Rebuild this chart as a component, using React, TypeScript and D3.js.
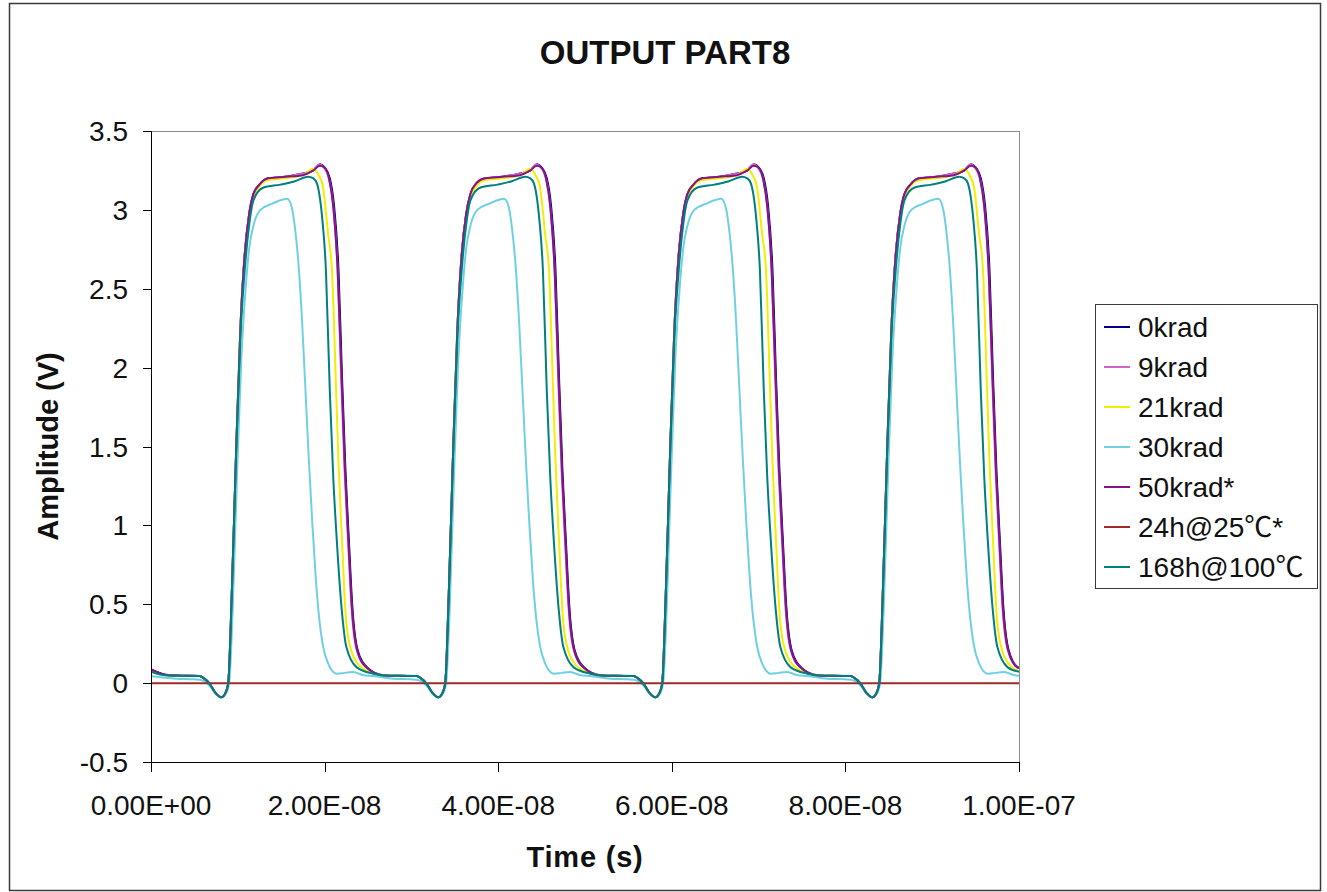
import React from 'react';
import * as d3 from 'd3';

// ---------- data (time in ns, amplitude in V) ----------
const X_TICKS = [0, 20, 40, 60, 80, 100];
const X_TICK_LABELS = ['0.00E+00', '2.00E-08', '4.00E-08', '6.00E-08', '8.00E-08', '1.00E-07'];
const Y_TICKS = [-0.5, 0, 0.5, 1, 1.5, 2, 2.5, 3, 3.5];
const Y_TICK_LABELS = ['-0.5', '0', '0.5', '1', '1.5', '2', '2.5', '3', '3.5'];

const SERIES_NAMES = ['0krad', '9krad', '21krad', '30krad', '50krad*', '24h@25℃*', '168h@100℃'];

const KRAD0: [number, number][] = [
  [0, 0.088], [0.6, 0.072], [1.7, 0.053], [3.5, 0.047],
  [5.6, 0.045], [6.1, 0.03], [6.7, 0], [7.4, -0.06], [8.1, -0.09], [8.6, -0.06], [8.9, 0], [9.3, 0.55], [9.8, 1.45], [10.3, 2.25], [10.8, 2.72], [11.3, 2.97], [11.8, 3.1], [12.5, 3.16], [13.5, 3.2], [15.5, 3.21], [17.5, 3.23], [18.7, 3.25], [19.5, 3.29], [20.0, 3.27], [20.6, 3.2], [21.1, 3.02], [21.6, 2.62], [22.0, 1.95], [22.4, 1.35], [22.8, 0.9], [23.2, 0.48], [23.8, 0.21], [24.9, 0.1], [26.8, 0.05], [28.5, 0.046],
  [30.6, 0.045], [31.1, 0.03], [31.7, 0], [32.4, -0.06], [33.1, -0.09], [33.6, -0.06], [33.9, 0], [34.3, 0.55], [34.8, 1.45], [35.3, 2.25], [35.8, 2.72], [36.3, 2.97], [36.8, 3.1], [37.5, 3.17], [38.5, 3.2], [40.5, 3.21], [42.5, 3.23], [43.7, 3.25], [44.5, 3.29], [45.0, 3.27], [45.6, 3.2], [46.1, 3.02], [46.6, 2.62], [47.0, 1.95], [47.4, 1.35], [47.8, 0.9], [48.2, 0.48], [48.8, 0.21], [49.9, 0.1], [51.8, 0.05], [53.5, 0.046],
  [55.6, 0.045], [56.1, 0.03], [56.7, 0], [57.4, -0.06], [58.1, -0.09], [58.6, -0.06], [58.9, 0], [59.3, 0.55], [59.8, 1.45], [60.3, 2.25], [60.8, 2.72], [61.3, 2.97], [61.8, 3.1], [62.5, 3.16], [63.5, 3.2], [65.5, 3.21], [67.5, 3.23], [68.7, 3.25], [69.5, 3.29], [70.0, 3.27], [70.6, 3.2], [71.1, 3.02], [71.6, 2.62], [72.0, 1.95], [72.4, 1.35], [72.8, 0.9], [73.2, 0.48], [73.8, 0.21], [74.9, 0.1], [76.8, 0.05], [78.5, 0.046],
  [80.6, 0.045], [81.1, 0.03], [81.7, 0], [82.4, -0.06], [83.1, -0.09], [83.6, -0.06], [83.9, 0], [84.3, 0.55], [84.8, 1.45], [85.3, 2.25], [85.8, 2.72], [86.3, 2.97], [86.8, 3.1], [87.5, 3.16], [88.5, 3.2], [90.5, 3.21], [92.5, 3.23], [93.7, 3.25], [94.5, 3.29], [95.0, 3.27], [95.6, 3.2], [96.1, 3.02], [96.6, 2.62], [97.0, 1.95], [97.4, 1.35], [97.8, 0.9], [98.2, 0.48], [98.8, 0.21], [99.9, 0.1], [100, 0.098],
];

const KRAD9: [number, number][] = [
  [0, 0.085], [0.6, 0.07], [1.7, 0.052], [3.5, 0.047],
  [5.6, 0.045], [6.1, 0.03], [6.7, 0], [7.4, -0.06], [8.1, -0.09], [8.6, -0.06], [8.9, 0], [9.3, 0.55], [9.8, 1.45], [10.3, 2.25], [10.8, 2.72], [11.3, 2.97], [11.8, 3.1], [12.5, 3.16], [13.5, 3.2], [15.5, 3.21], [17.5, 3.23], [18.7, 3.25], [19.4, 3.29], [19.9, 3.27], [20.5, 3.2], [21.0, 3.02], [21.5, 2.62], [21.9, 1.95], [22.3, 1.35], [22.7, 0.9], [23.1, 0.48], [23.7, 0.21], [24.8, 0.1], [26.7, 0.05], [28.5, 0.046],
  [30.6, 0.045], [31.1, 0.03], [31.7, 0], [32.4, -0.06], [33.1, -0.09], [33.6, -0.06], [33.9, 0], [34.3, 0.55], [34.8, 1.45], [35.3, 2.25], [35.8, 2.72], [36.3, 2.97], [36.8, 3.1], [37.5, 3.17], [38.5, 3.2], [40.5, 3.21], [42.5, 3.23], [43.7, 3.25], [44.4, 3.29], [44.9, 3.27], [45.5, 3.2], [46.0, 3.02], [46.5, 2.62], [46.9, 1.95], [47.3, 1.35], [47.7, 0.9], [48.1, 0.48], [48.7, 0.21], [49.8, 0.1], [51.7, 0.05], [53.5, 0.046],
  [55.6, 0.045], [56.1, 0.03], [56.7, 0], [57.4, -0.06], [58.1, -0.09], [58.6, -0.06], [58.9, 0], [59.3, 0.55], [59.8, 1.45], [60.3, 2.25], [60.8, 2.72], [61.3, 2.97], [61.8, 3.1], [62.5, 3.16], [63.5, 3.2], [65.5, 3.21], [67.5, 3.23], [68.7, 3.25], [69.4, 3.29], [69.9, 3.27], [70.5, 3.2], [71.0, 3.02], [71.5, 2.62], [71.9, 1.95], [72.3, 1.35], [72.7, 0.9], [73.1, 0.48], [73.7, 0.21], [74.8, 0.1], [76.7, 0.05], [78.5, 0.046],
  [80.6, 0.045], [81.1, 0.03], [81.7, 0], [82.4, -0.06], [83.1, -0.09], [83.6, -0.06], [83.9, 0], [84.3, 0.55], [84.8, 1.45], [85.3, 2.25], [85.8, 2.72], [86.3, 2.97], [86.8, 3.1], [87.5, 3.16], [88.5, 3.2], [90.5, 3.21], [92.5, 3.23], [93.7, 3.25], [94.4, 3.29], [94.9, 3.27], [95.5, 3.2], [96.0, 3.02], [96.5, 2.62], [96.9, 1.95], [97.3, 1.35], [97.7, 0.9], [98.1, 0.48], [98.7, 0.21], [99.8, 0.1], [100, 0.095],
];

const KRAD21: [number, number][] = [
  [0, 0.075], [0.6, 0.062], [1.7, 0.05], [3.5, 0.046],
  [5.6, 0.045], [6.1, 0.03], [6.7, 0], [7.4, -0.06], [8.1, -0.09], [8.6, -0.06], [8.9, 0], [9.3, 0.55], [9.8, 1.45], [10.3, 2.25], [10.8, 2.7], [11.3, 2.95], [11.8, 3.08], [12.5, 3.15], [13.5, 3.19], [15.5, 3.2], [17.5, 3.22], [18.7, 3.26], [19.3, 3.22], [19.8, 3.15], [20.4, 2.85], [20.85, 2.62], [21.3, 1.9], [21.6, 1.4], [22.0, 0.91], [22.5, 0.38], [23.3, 0.17], [24.8, 0.08], [26.5, 0.052], [28.5, 0.046],
  [30.6, 0.045], [31.1, 0.03], [31.7, 0], [32.4, -0.06], [33.1, -0.09], [33.6, -0.06], [33.9, 0], [34.3, 0.55], [34.8, 1.45], [35.3, 2.25], [35.8, 2.7], [36.3, 2.95], [36.8, 3.08], [37.5, 3.15], [38.5, 3.19], [40.5, 3.2], [42.5, 3.22], [43.7, 3.26], [44.3, 3.22], [44.8, 3.15], [45.4, 2.85], [45.85, 2.62], [46.3, 1.9], [46.6, 1.4], [47.0, 0.91], [47.5, 0.38], [48.3, 0.17], [49.8, 0.08], [51.5, 0.052], [53.5, 0.046],
  [55.6, 0.045], [56.1, 0.03], [56.7, 0], [57.4, -0.06], [58.1, -0.09], [58.6, -0.06], [58.9, 0], [59.3, 0.55], [59.8, 1.45], [60.3, 2.25], [60.8, 2.7], [61.3, 2.95], [61.8, 3.08], [62.5, 3.15], [63.5, 3.19], [65.5, 3.2], [67.5, 3.22], [68.7, 3.26], [69.3, 3.22], [69.8, 3.15], [70.4, 2.85], [70.85, 2.62], [71.3, 1.9], [71.6, 1.4], [72.0, 0.91], [72.5, 0.38], [73.3, 0.17], [74.8, 0.08], [76.5, 0.052], [78.5, 0.046],
  [80.6, 0.045], [81.1, 0.03], [81.7, 0], [82.4, -0.06], [83.1, -0.09], [83.6, -0.06], [83.9, 0], [84.3, 0.55], [84.8, 1.45], [85.3, 2.25], [85.8, 2.7], [86.3, 2.95], [86.8, 3.08], [87.5, 3.15], [88.5, 3.19], [90.5, 3.2], [92.5, 3.22], [93.7, 3.26], [94.3, 3.22], [94.8, 3.15], [95.4, 2.85], [95.85, 2.62], [96.3, 1.9], [96.6, 1.4], [97.0, 0.91], [97.5, 0.38], [98.3, 0.17], [99.8, 0.08], [100, 0.077],
];

const KRAD30: [number, number][] = [
  [0, 0.045], [0.6, 0.04], [2.9, 0.028], [5.0, 0.024],
  [5.6, 0.022], [6.2, 0.01], [6.8, -0.02], [7.5, -0.07], [8.1, -0.09], [8.6, -0.07], [9.0, 0], [9.4, 0.45], [9.9, 1.3], [10.4, 2.05], [10.9, 2.5], [11.3, 2.75], [11.8, 2.9], [12.6, 3.0], [14.0, 3.04], [15.7, 3.07], [16.2, 3.02], [16.6, 2.88], [17.0, 2.65], [17.4, 2.3], [17.8, 1.85], [18.2, 1.4], [18.6, 1.0], [19.0, 0.65], [19.4, 0.4], [19.8, 0.24], [20.4, 0.125], [21.4, 0.06], [22.3, 0.065], [23.3, 0.07], [24.5, 0.05], [25.6, 0.045], [27.9, 0.028], [30.0, 0.024],
  [30.6, 0.022], [31.2, 0.01], [31.8, -0.02], [32.5, -0.07], [33.1, -0.09], [33.6, -0.07], [34.0, 0], [34.4, 0.45], [34.9, 1.3], [35.4, 2.05], [35.9, 2.5], [36.3, 2.75], [36.8, 2.9], [37.6, 3.0], [39.0, 3.04], [40.7, 3.07], [41.2, 3.02], [41.6, 2.88], [42.0, 2.65], [42.4, 2.3], [42.8, 1.85], [43.2, 1.4], [43.6, 1.0], [44.0, 0.65], [44.4, 0.4], [44.8, 0.24], [45.4, 0.125], [46.4, 0.06], [47.3, 0.065], [48.3, 0.07], [49.5, 0.05], [50.6, 0.045], [52.9, 0.028], [55.0, 0.024],
  [55.6, 0.022], [56.2, 0.01], [56.8, -0.02], [57.5, -0.07], [58.1, -0.09], [58.6, -0.07], [59.0, 0], [59.4, 0.45], [59.9, 1.3], [60.4, 2.05], [60.9, 2.5], [61.3, 2.75], [61.8, 2.9], [62.6, 3.0], [64.0, 3.04], [65.7, 3.07], [66.2, 3.02], [66.6, 2.88], [67.0, 2.65], [67.4, 2.3], [67.8, 1.85], [68.2, 1.4], [68.6, 1.0], [69.0, 0.65], [69.4, 0.4], [69.8, 0.24], [70.4, 0.125], [71.4, 0.06], [72.3, 0.065], [73.3, 0.07], [74.5, 0.05], [75.6, 0.045], [77.9, 0.028], [80.0, 0.024],
  [80.6, 0.022], [81.2, 0.01], [81.8, -0.02], [82.5, -0.07], [83.1, -0.09], [83.6, -0.07], [84.0, 0], [84.4, 0.45], [84.9, 1.3], [85.4, 2.05], [85.9, 2.5], [86.3, 2.75], [86.8, 2.9], [87.6, 3.0], [89.0, 3.04], [90.7, 3.07], [91.2, 3.02], [91.6, 2.88], [92.0, 2.65], [92.4, 2.3], [92.8, 1.85], [93.2, 1.4], [93.6, 1.0], [94.0, 0.65], [94.4, 0.4], [94.8, 0.24], [95.4, 0.125], [96.4, 0.06], [97.3, 0.065], [98.3, 0.07], [99.5, 0.05], [100, 0.047],
];

const KRAD50: [number, number][] = [
  [0, 0.086], [0.6, 0.071], [1.7, 0.052], [3.5, 0.047],
  [5.6, 0.045], [6.1, 0.03], [6.7, 0], [7.4, -0.06], [8.1, -0.09], [8.6, -0.06], [8.9, 0], [9.3, 0.55], [9.8, 1.45], [10.3, 2.25], [10.8, 2.72], [11.3, 2.97], [11.8, 3.1], [12.5, 3.16], [13.5, 3.2], [15.5, 3.21], [17.5, 3.22], [18.7, 3.25], [19.45, 3.28], [19.95, 3.27], [20.5, 3.2], [21.0, 3.02], [21.5, 2.62], [21.95, 1.95], [22.35, 1.35], [22.75, 0.9], [23.15, 0.48], [23.75, 0.21], [24.8, 0.1], [26.7, 0.05], [28.5, 0.046],
  [30.6, 0.045], [31.1, 0.03], [31.7, 0], [32.4, -0.06], [33.1, -0.09], [33.6, -0.06], [33.9, 0], [34.3, 0.55], [34.8, 1.45], [35.3, 2.25], [35.8, 2.72], [36.3, 2.97], [36.8, 3.1], [37.5, 3.17], [38.5, 3.2], [40.5, 3.21], [42.5, 3.22], [43.7, 3.25], [44.45, 3.28], [44.95, 3.27], [45.5, 3.2], [46.0, 3.02], [46.5, 2.62], [46.95, 1.95], [47.35, 1.35], [47.75, 0.9], [48.15, 0.48], [48.75, 0.21], [49.8, 0.1], [51.7, 0.05], [53.5, 0.046],
  [55.6, 0.045], [56.1, 0.03], [56.7, 0], [57.4, -0.06], [58.1, -0.09], [58.6, -0.06], [58.9, 0], [59.3, 0.55], [59.8, 1.45], [60.3, 2.25], [60.8, 2.72], [61.3, 2.97], [61.8, 3.1], [62.5, 3.16], [63.5, 3.2], [65.5, 3.21], [67.5, 3.22], [68.7, 3.25], [69.45, 3.28], [69.95, 3.27], [70.5, 3.2], [71.0, 3.02], [71.5, 2.62], [71.95, 1.95], [72.35, 1.35], [72.75, 0.9], [73.15, 0.48], [73.75, 0.21], [74.8, 0.1], [76.7, 0.05], [78.5, 0.046],
  [80.6, 0.045], [81.1, 0.03], [81.7, 0], [82.4, -0.06], [83.1, -0.09], [83.6, -0.06], [83.9, 0], [84.3, 0.55], [84.8, 1.45], [85.3, 2.25], [85.8, 2.72], [86.3, 2.97], [86.8, 3.1], [87.5, 3.16], [88.5, 3.2], [90.5, 3.21], [92.5, 3.22], [93.7, 3.25], [94.45, 3.28], [94.95, 3.27], [95.5, 3.2], [96.0, 3.02], [96.5, 2.62], [96.95, 1.95], [97.35, 1.35], [97.75, 0.9], [98.15, 0.48], [98.75, 0.21], [99.8, 0.1], [100, 0.096],
];

const H24_25C: [number, number][] = [
  [0, 0], [100, 0],
];

const H168_100C: [number, number][] = [
  [0, 0.072], [0.6, 0.06], [1.7, 0.05], [3.5, 0.046],
  [5.6, 0.045], [6.1, 0.03], [6.7, 0], [7.4, -0.06], [8.1, -0.09], [8.6, -0.06], [8.9, 0], [9.3, 0.55], [9.8, 1.45], [10.3, 2.2], [10.8, 2.62], [11.3, 2.9], [11.8, 3.06], [12.9, 3.14], [14.9, 3.16], [16.5, 3.18], [18.1, 3.21], [18.7, 3.2], [19.1, 3.17], [19.7, 2.96], [20.15, 2.62], [20.6, 1.85], [21.0, 1.3], [21.4, 0.91], [21.95, 0.48], [22.5, 0.23], [23.7, 0.1], [25.6, 0.06], [27.5, 0.047],
  [30.6, 0.045], [31.1, 0.03], [31.7, 0], [32.4, -0.06], [33.1, -0.09], [33.6, -0.06], [33.9, 0], [34.3, 0.55], [34.8, 1.45], [35.3, 2.2], [35.8, 2.62], [36.3, 2.9], [36.8, 3.06], [37.9, 3.14], [39.9, 3.16], [41.5, 3.18], [43.1, 3.21], [43.7, 3.2], [44.1, 3.17], [44.7, 2.96], [45.15, 2.62], [45.6, 1.85], [46.0, 1.3], [46.4, 0.91], [46.95, 0.48], [47.5, 0.23], [48.7, 0.1], [50.6, 0.06], [52.5, 0.047],
  [55.6, 0.045], [56.1, 0.03], [56.7, 0], [57.4, -0.06], [58.1, -0.09], [58.6, -0.06], [58.9, 0], [59.3, 0.55], [59.8, 1.45], [60.3, 2.2], [60.8, 2.62], [61.3, 2.9], [61.8, 3.06], [62.9, 3.14], [64.9, 3.16], [66.5, 3.18], [68.1, 3.21], [68.7, 3.2], [69.1, 3.17], [69.7, 2.96], [70.15, 2.62], [70.6, 1.85], [71.0, 1.3], [71.4, 0.91], [71.95, 0.48], [72.5, 0.23], [73.7, 0.1], [75.6, 0.06], [77.5, 0.047],
  [80.6, 0.045], [81.1, 0.03], [81.7, 0], [82.4, -0.06], [83.1, -0.09], [83.6, -0.06], [83.9, 0], [84.3, 0.55], [84.8, 1.45], [85.3, 2.2], [85.8, 2.62], [86.3, 2.9], [86.8, 3.06], [87.9, 3.14], [89.9, 3.16], [91.5, 3.18], [93.1, 3.21], [93.7, 3.2], [94.1, 3.17], [94.7, 2.96], [95.15, 2.62], [95.6, 1.85], [96.0, 1.3], [96.4, 0.91], [96.95, 0.48], [97.5, 0.23], [98.7, 0.1], [100, 0.072],
];

const SERIES_DATA = [KRAD0, KRAD9, KRAD21, KRAD30, KRAD50, H24_25C, H168_100C];
const SERIES_COLORS = ['#000080', '#d064c8', '#f0ef00', '#6fd0e2', '#861486', '#9e2a2a', '#007f7f'];

const FONT = "'Liberation Sans', Arial, 'Noto Sans CJK SC', sans-serif";

export default function App() {
  const W = 1327;
  const H = 892;
  const plot = { left: 151, right: 1019, top: 131, bottom: 762 };

  const x = d3.scaleLinear().domain([0, 100]).range([plot.left, plot.right]);
  const y = d3.scaleLinear().domain([-0.5, 3.5]).range([plot.bottom, plot.top]);
  const line = d3
    .line<[number, number]>()
    .x((d) => x(d[0]))
    .y((d) => y(d[1]))
    .curve(d3.curveMonotoneX);

  const legend = { left: 1095, top: 304, right: 1317, bottom: 588, row0: 327, step: 40 };

  return (
    <svg
      width={W}
      height={H}
      style={{ position: 'absolute', left: 0, top: 0, display: 'block', background: '#fff' }}
      fontFamily={FONT}
    >
      <defs>
        <clipPath id="plotClip">
          <rect x={plot.left} y={plot.top} width={plot.right - plot.left} height={plot.bottom - plot.top} />
        </clipPath>
      </defs>
      <rect x={0} y={0} width={W} height={H} fill="#fff" />
      {/* outer chart border */}
      <rect x={9.5} y={3.5} width={1311} height={887} fill="none" stroke="#3a3a3a" strokeWidth={1.5} />

      {/* title */}
      <text x={665} y={64} textAnchor="middle" fontSize={33} fontWeight="bold" fill="#111">
        OUTPUT PART8
      </text>

      {/* plot frame: top & right gray */}
      <line x1={plot.left} x2={plot.right} y1={plot.top + 0.5} y2={plot.top + 0.5} stroke="#8c8c8c" strokeWidth={1} />
      <line x1={plot.right + 0.5} x2={plot.right + 0.5} y1={plot.top} y2={plot.bottom} stroke="#8c8c8c" strokeWidth={1} />

      {/* series */}
      <g clipPath="url(#plotClip)">
        {SERIES_DATA.map((d, i) => (
          <path key={i} d={line(d) || ''} fill="none" stroke={SERIES_COLORS[i]} strokeWidth={2} strokeLinejoin="round" />
        ))}
      </g>

      {/* y axis */}
      <line x1={plot.left + 0.5} x2={plot.left + 0.5} y1={plot.top} y2={plot.bottom + 10} stroke="#000" strokeWidth={1} />
      {Y_TICKS.map((t, i) => (
        <g key={i}>
          <line x1={plot.left - 8} x2={plot.left} y1={Math.round(y(t)) + 0.5} y2={Math.round(y(t)) + 0.5} stroke="#000" strokeWidth={1} />
          <text x={128} y={y(t)} dy="0.36em" textAnchor="end" fontSize={28} fill="#111">
            {Y_TICK_LABELS[i]}
          </text>
        </g>
      ))}

      {/* x axis */}
      <line x1={plot.left - 8} x2={plot.right} y1={plot.bottom + 0.5} y2={plot.bottom + 0.5} stroke="#000" strokeWidth={1} />
      {X_TICKS.map((t, i) => (
        <g key={i}>
          <line x1={Math.round(x(t)) + 0.5} x2={Math.round(x(t)) + 0.5} y1={plot.bottom} y2={plot.bottom + 10} stroke="#000" strokeWidth={1} />
          <text x={x(t)} y={815} textAnchor="middle" fontSize={28} fill="#111">
            {X_TICK_LABELS[i]}
          </text>
        </g>
      ))}

      {/* axis titles */}
      <text x={585} y={867} textAnchor="middle" fontSize={29} fontWeight="bold" letterSpacing={0.8} fill="#111">
        Time (s)
      </text>
      <text
        transform={`translate(48, ${(plot.top + plot.bottom) / 2}) rotate(-90)`}
        textAnchor="middle"
        dominantBaseline="central"
        fontSize={29}
        fontWeight="bold"
        fill="#111"
      >
        Amplitude (V)
      </text>

      {/* legend */}
      <rect
        x={legend.left + 0.5}
        y={legend.top + 0.5}
        width={legend.right - legend.left}
        height={legend.bottom - legend.top}
        fill="#fff"
        stroke="#3a3a3a"
        strokeWidth={1}
      />
      {SERIES_NAMES.map((name, i) => {
        const cy = legend.row0 + i * legend.step;
        return (
          <g key={name}>
            <line x1={1104} x2={1130} y1={cy} y2={cy} stroke={SERIES_COLORS[i]} strokeWidth={2} />
            <text x={1138} y={cy} dy="0.36em" fontSize={28} fill="#111">
              {name}
            </text>
          </g>
        );
      })}
    </svg>
  );
}
